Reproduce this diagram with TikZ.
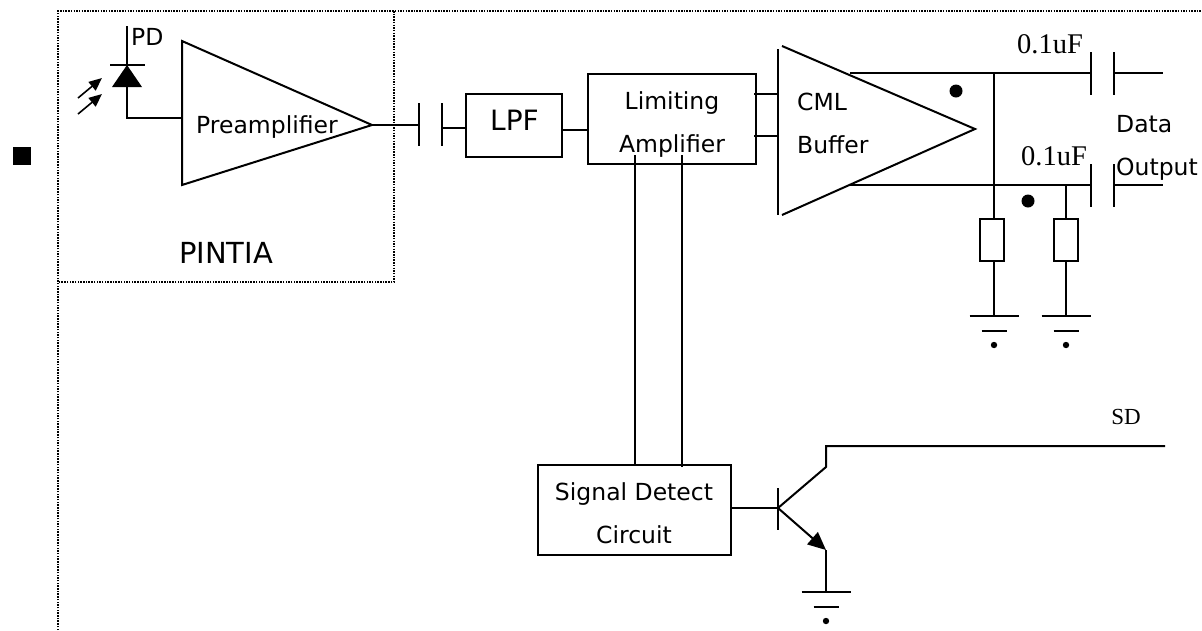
\documentclass[tikz,border=0pt]{standalone}
\usepackage{fontspec}
\setmainfont{DejaVu Sans}
\newfontfamily\serifl{Liberation Serif}
\usetikzlibrary{arrows.meta}
\tikzset{
  wire/.style={line width=2pt,line cap=butt,line join=miter},
  dotline/.style={line width=1.6pt,dash pattern=on 1.5pt off 1.2pt},
  blockbox/.style={draw,line width=2pt,inner sep=0pt,outer sep=0pt,anchor=north west},
  lab/.style={inner sep=0pt,anchor=base,font=\fontsize{23.5}{23.5}\selectfont},
  labl/.style={lab,anchor=base west},
  biglab/.style={lab,font=\fontsize{28}{28}\selectfont},
  seriflab/.style={inner sep=0pt,anchor=base,font=\serifl\fontsize{28.5}{28.5}\selectfont},
  dotmark/.style={circle,fill=black,draw=none,inner sep=0pt,minimum size=#1},
  res/.style={blockbox,minimum width=24pt,minimum height=42pt},
  lightarrow/.style={line width=1.6pt,-{Triangle[length=13pt,width=11pt]}},
}
\begin{document}
\begin{tikzpicture}[x=1pt,y=-1pt]
\useasboundingbox (0,0) rectangle (1202,630);
% dotted frames
\coordinate (oTL) at (58,11); \coordinate (oTR) at (1202,11); \coordinate (oBL) at (58,630);
\draw[dotline] (oBL) -- (oTL) -- (oTR);
\node[blockbox,draw=none,minimum width=336pt,minimum height=271pt] (pintia) at (58,11) {};
\draw[dotline] (pintia.north east) -- (pintia.south east) -- (pintia.south west);
\node[fill=black,inner sep=0pt,outer sep=0pt,minimum size=18pt,anchor=north west] (bullet) at (13,147) {};
% photodiode
\coordinate (pdtop) at (127,26); \coordinate (pdbar) at (127,65); \coordinate (pdbase) at (127,87);
\coordinate (pdbarL) at (110,65); \coordinate (pdbarR) at (145,65);
\coordinate (pdtriL) at (112,87); \coordinate (pdtriR) at (142,87);
\coordinate (pdelbow) at (127,118); \coordinate (preIn) at (182,118);
\draw[wire] (pdtop) -- (pdbar); \draw[wire] (pdbarL) -- (pdbarR);
\fill (pdbar) -- (pdtriL) -- (pdtriR) -- cycle;
\draw[wire] (pdbase) -- (pdelbow) -- (preIn);
\coordinate (l1a) at (78,98); \coordinate (l1b) at (102,78);
\coordinate (l2a) at (78,114); \coordinate (l2b) at (102,94);
\draw[lightarrow] (l1a) -- (l1b); \draw[lightarrow] (l2a) -- (l2b);
\node[labl] (pdlabel) at (131,45) {PD};
% preamp
\coordinate (preT) at (182,41); \coordinate (preB) at (182,185); \coordinate (preTip) at (372,125);
\draw[wire] (preT) -- (preTip) -- (preB) -- cycle;
\node[lab] (prelabel) at (267,133) {Preamplifier};
\node[biglab,font=\fontsize{29}{29}\selectfont] (pintiaL) at (226,263) {PINTIA};
% coupling cap
\coordinate (c1a) at (419,125); \coordinate (c1aT) at (419,103); \coordinate (c1aB) at (419,146);
\coordinate (c1bT) at (442,103); \coordinate (c1bB) at (442,146); \coordinate (c1b) at (442,128);
\draw[wire] (preTip) -- (c1a); \draw[wire] (c1aT) -- (c1aB); \draw[wire] (c1bT) -- (c1bB);
% LPF
\node[blockbox,minimum width=96pt,minimum height=63pt] (lpf) at (466,94) {};
\node[biglab] (lpfL) at (514.5,130) {LPF};
\draw[wire] (c1b) -- (c1b -| lpf.west);
% limiting amp
\node[blockbox,minimum width=168pt,minimum height=90pt] (lim) at (588,74) {};
\node[lab] (limL1) at (672,109) {Limiting};
\node[lab] (limL2) at (672,152) {Amplifier};
\coordinate (lpfout) at (562,130);
\draw[wire] (lpfout) -- (lpfout -| lim.west);
% buffer
\coordinate (bufT) at (782,46); \coordinate (bufB) at (782,215); \coordinate (bufTip) at (975,129);
\coordinate (barT) at (778,49); \coordinate (barB) at (778,215);
\draw[wire] (barT) -- (barB);
\draw[wire] (bufT) -- (bufTip) -- (bufB);
\coordinate (in1a) at (754,94); \coordinate (in1b) at (778,94);
\coordinate (in2a) at (754,136); \coordinate (in2b) at (778,136);
\draw[wire] (in1a) -- (in1b); \draw[wire] (in2a) -- (in2b);
\node[labl] (cml) at (797,110) {CML};
\node[labl] (bufL) at (797,153) {Buffer};
% outputs
\coordinate (o1s) at (850,73); \coordinate (o1c) at (1091,73); \coordinate (o1d) at (1114,73); \coordinate (o1e) at (1163,73);
\coordinate (o2s) at (850,185); \coordinate (o2c) at (1091,185); \coordinate (o2d) at (1114,185); \coordinate (o2e) at (1163,185);
\draw[wire] (o1s) -- (o1c); \draw[wire] (o1d) -- (o1e);
\draw[wire] (o2s) -- (o2c); \draw[wire] (o2d) -- (o2e);
\foreach \x/\n in {1091/a,1114/b}{
  \draw[wire] (\x,52) -- (\x,95);
  \draw[wire] (\x,164) -- (\x,207);
}
\node[seriflab] (c1L) at (1050,53) {0.1uF};
\node[seriflab] (c2L) at (1054,165) {0.1uF};
\node[labl] (dataL) at (1116,132) {Data};
\node[labl] (outL) at (1116,175) {Output};
\node[dotmark=13pt] (d1) at (956,91) {};
\node[dotmark=13pt] (d2) at (1028,201) {};
% resistors and grounds
\node[res] (r1) at (980,219) {};
\node[res] (r2) at (1054,219) {};
\coordinate (j1) at (994,73); \coordinate (g1) at (994,316);
\coordinate (j2) at (1066,185); \coordinate (g2) at (1066,316);
\draw[wire] (j1) -- (j1 |- r1.north);
\draw[wire] (j2) -- (j2 |- r2.north);
\draw[wire] (g1 |- r1.south) -- (g1);
\draw[wire] (g2 |- r2.south) -- (g2);
\foreach \x in {994,1066}{
  \draw[wire] (\x-24.5,316) -- (\x+24.5,316);
  \draw[wire] (\x-12.5,331) -- (\x+12.5,331);
  \fill (\x,345) circle (3.2pt);
}
% signal detect
\node[blockbox,minimum width=193pt,minimum height=90pt] (sig) at (538,465) {};
\node[lab] (sigL1) at (634,500) {Signal Detect};
\node[lab] (sigL2) at (634,543) {Circuit};
\coordinate (s1) at (635,155); \coordinate (s2) at (682,155);
\draw[wire] (s1) -- (s1 |- sig.north);
\draw[wire] (s2) -- (682,467);
% transistor
\coordinate (base) at (778,508); \coordinate (sigout) at (731,508);
\coordinate (bT) at (778,488); \coordinate (bB) at (778,530);
\coordinate (col) at (826,467); \coordinate (colt) at (826,446); \coordinate (sdE) at (1165,446);
\coordinate (emi) at (826,550); \coordinate (g3) at (826,592);
\draw[wire] (sigout) -- (base);
\draw[wire] (bT) -- (bB);
\draw[wire] (base) -- (col) -- (colt) -- (sdE);
\draw[wire,-{Triangle[length=18pt,width=16pt]}] (base) -- (emi);
\draw[wire] (emi) -- (g3);
\draw[wire] (801.5,592) -- (850.5,592);
\draw[wire] (813.5,607) -- (838.5,607);
\fill (826,621) circle (3.2pt);
\node[seriflab,font=\serifl\fontsize{23}{23}\selectfont] (sdL) at (1126,424) {SD};
\end{tikzpicture}
\end{document}
